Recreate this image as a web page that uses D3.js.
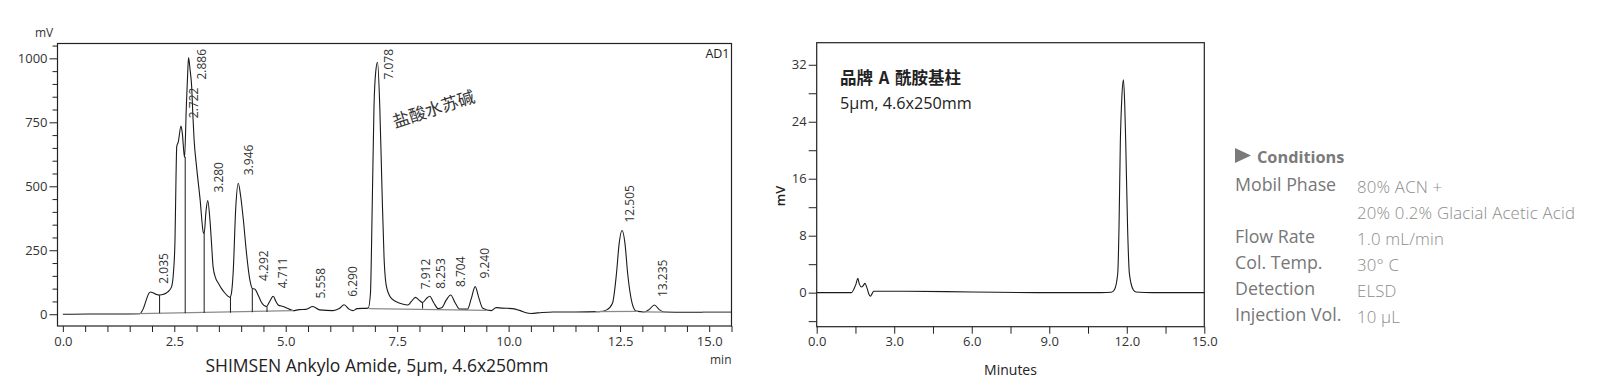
<!DOCTYPE html>
<html>
<head>
<meta charset="utf-8">
<script src="https://cdn.jsdelivr.net/npm/d3@7.9.0/dist/d3.min.js"></script>
<style>
  body { margin: 0; background: #fff; }
  svg { display: block; font-family: "Open Sans", "Noto Sans", sans-serif; }
</style>
</head>
<body>
<svg id="chart" width="1608" height="389"></svg>
<script>
/******************************************************
 * Data
 ******************************************************/
// left chromatogram: [time (min), signal (mV)]
const leftTrace = [
  [0.00, 0], [0.60, 1], [1.20, 1], [1.72, 2], [1.80, 20], [1.87, 55], [1.93, 82], [1.97, 87],
  [2.02, 84], [2.10, 77], [2.17, 75], [2.26, 78], [2.36, 88], [2.44, 108], [2.48, 160],
  [2.516, 290], [2.54, 550], [2.555, 655], [2.59, 674], [2.65, 735], [2.68, 707], [2.73, 612],
  [2.77, 811], [2.80, 940], [2.82, 1003], [2.855, 954], [2.89, 889], [2.915, 785], [2.945, 680],
  [3.00, 576], [3.08, 447], [3.15, 320], [3.17, 315], [3.21, 400], [3.25, 444], [3.30, 368],
  [3.34, 264], [3.37, 186], [3.43, 140], [3.49, 121], [3.56, 100], [3.64, 82], [3.75, 66],
  [3.78, 80], [3.82, 160], [3.88, 420], [3.935, 512], [3.99, 460], [4.05, 368], [4.12, 238],
  [4.195, 134], [4.25, 101], [4.31, 98], [4.38, 75], [4.46, 45], [4.57, 30], [4.64, 50],
  [4.72, 70], [4.78, 50], [4.83, 36], [4.94, 30], [5.09, 19], [5.17, 14], [5.30, 18],
  [5.45, 19], [5.61, 30], [5.76, 17], [6.06, 14], [6.20, 22], [6.31, 37], [6.42, 20],
  [6.51, 14], [6.60, 22], [6.85, 24], [6.90, 80], [6.94, 420], [6.98, 811], [7.02, 950],
  [7.06, 985], [7.11, 811], [7.16, 485], [7.205, 225], [7.26, 108], [7.37, 62], [7.56, 43],
  [7.74, 36], [7.82, 50], [7.91, 66], [7.99, 55], [8.07, 46], [8.16, 62], [8.23, 70],
  [8.32, 45], [8.42, 22], [8.50, 25], [8.60, 55], [8.70, 75], [8.80, 45], [8.90, 20],
  [9.08, 20], [9.16, 60], [9.25, 108], [9.33, 65], [9.42, 23], [9.61, 14], [9.72, 26],
  [9.85, 24], [10.09, 22], [10.25, 15], [10.39, 6], [10.50, 3], [10.75, 7], [11.00, 9],
  [11.50, 9], [12.04, 10], [12.20, 17], [12.33, 43], [12.42, 160], [12.48, 277], [12.545, 327],
  [12.61, 277], [12.67, 160], [12.77, 43], [12.86, 12], [13.04, 9], [13.15, 18], [13.27, 36],
  [13.38, 18], [13.49, 9], [14.00, 8], [15.00, 8]
];
// peak labels: [retention time, apex height (mV)]
const leftPeaks = [
  [2.035, 88], [2.722, 735], [2.886, 1003], [3.280, 444], [3.946, 512], [4.292, 99],
  [4.711, 70], [5.558, 30], [6.290, 37], [7.078, 985], [7.912, 66], [8.253, 68],
  [8.704, 75], [9.240, 108], [12.505, 327], [13.235, 36]
];
// vertical drop lines at valleys: [time, top (mV), bottom (mV)]
const dropLines = [
  [2.17, 75, 4], [2.745, 615, 4], [3.17, 315, 5], [3.76, 68, 6], [4.25, 101, 8], [4.58, 30, 9], [8.07, 46, 22]
];
// integration baselines: [t0, mV0, t1, mV1]
const baselines = [
  [0.60, 0, 1.72, 2], [1.72, 2, 5.17, 14], [6.87, 22, 9.50, 15],
  [11.95, 10, 12.90, 11], [13.00, 9, 13.55, 8], [14.35, 8, 15.00, 8]
];
const leftXMajor = [0, 2.5, 5, 7.5, 10, 12.5, 15];
const leftYMajor = [0, 250, 500, 750, 1000];

// right chromatogram: [time (min), signal (mV)]
const rightTrace = [
  [0, 0], [1.35, 0], [1.45, 0.6], [1.52, 1.2], [1.59, 2.0], [1.65, 1.2], [1.74, 0.8],
  [1.80, 1.0], [1.87, 1.3], [1.95, 0.6], [2.03, -0.3], [2.08, -0.5], [2.15, -0.1], [2.20, 0.2],
  [3.0, 0.2], [5.0, 0.15], [7.0, 0.05], [9.0, 0.0], [11.0, 0.0], [11.4, 0.05], [11.52, 0.4],
  [11.65, 2.7], [11.70, 9.3], [11.75, 21], [11.81, 27.5], [11.87, 29.9], [11.92, 26.5],
  [11.96, 21], [12.03, 9.3], [12.10, 2.7], [12.25, 0.4], [12.35, 0.1], [13.0, 0], [15.0, 0]
];
const rightXMajor = [0, 3, 6, 9, 12, 15];
const rightYMajor = [0, 8, 16, 24, 32];

const conditions = [
  ["Mobil Phase", "80% ACN +"],
  ["", "20% 0.2% Glacial Acetic Acid"],
  ["Flow Rate", "1.0 mL/min"],
  ["Col. Temp.", "30° C"],
  ["Detection", "ELSD"],
  ["Injection Vol.", "10 μL"]
];

const svg = d3.select("#chart");
const ink = "#222";

/******************************************************
 * Left chart
 ******************************************************/
function drawLeft() {
  const box = { left: 57.5, top: 43.5, right: 731.5, bottom: 326 };
  const x = d3.scaleLinear().domain([-0.12, 15]).range([box.left, box.right]);
  const y = d3.scaleLinear().domain([-46, 1058]).range([box.bottom, box.top]);
  const g = svg.append("g");

  // x axis (minor every 0.5, labels on majors)
  const xa = g.append("g")
    .attr("transform", `translate(0,${box.bottom})`)
    .call(d3.axisBottom(x)
      .tickValues(d3.range(0, 15.01, 0.5))
      .tickSize(6).tickPadding(5)
      .tickFormat(d => leftXMajor.includes(d) ? d3.format(".1f")(d) : ""));
  xa.select(".domain").remove();
  // the last label sits one minor step to the left in the original
  xa.selectAll(".tick text")
    .filter(d => d === 15)
    .attr("x", x(14.5) - x(15));

  // y axis
  const ya = g.append("g")
    .attr("transform", `translate(${box.left},0)`)
    .call(d3.axisLeft(y).tickValues(leftYMajor).tickSize(8).tickPadding(2).tickFormat(d3.format("d")));
  ya.select(".domain").remove();
  const ym = g.append("g")
    .attr("transform", `translate(${box.left},0)`)
    .call(d3.axisLeft(y)
      .tickValues(d3.range(0, 1051, 50).filter(v => !leftYMajor.includes(v)))
      .tickSize(5).tickFormat(""));
  ym.select(".domain").remove();

  g.selectAll(".tick line").attr("stroke", ink);
  g.selectAll(".tick text")
    .attr("fill", "#333")
    .style("font-size", "13px")
    .style("font-family", "'Open Sans', sans-serif");

  // trace
  const line = d3.line()
    .x(d => x(d[0]))
    .y(d => y(d[1]))
    .curve(d3.curveMonotoneX);
  g.append("path")
    .datum(leftTrace)
    .attr("fill", "none")
    .attr("stroke", "#1a1a1a")
    .attr("stroke-width", 1.1)
    .attr("d", line);

  // baselines
  g.selectAll(".base")
    .data(baselines)
    .enter()
    .append("line")
    .attr("class", "base")
    .attr("x1", d => x(d[0])).attr("y1", d => y(d[1]))
    .attr("x2", d => x(d[2])).attr("y2", d => y(d[3]))
    .attr("stroke", "#8a8a8a")
    .attr("stroke-width", 1.3);

  // drop lines
  g.selectAll(".drop")
    .data(dropLines)
    .enter()
    .append("line")
    .attr("class", "drop")
    .attr("x1", d => x(d[0])).attr("x2", d => x(d[0]))
    .attr("y1", d => y(d[1])).attr("y2", d => y(d[2]))
    .attr("stroke", "#1a1a1a")
    .attr("stroke-width", 1);

  // frame
  g.append("rect")
    .attr("x", box.left).attr("y", box.top)
    .attr("width", box.right - box.left)
    .attr("height", box.bottom - box.top)
    .attr("fill", "none")
    .attr("stroke", ink)
    .attr("stroke-width", 1.2);

  // peak labels, rotated; tall peaks are pushed down under the frame top
  g.selectAll(".peakLabel")
    .data(leftPeaks)
    .enter()
    .append("text")
    .attr("class", "peakLabel")
    .attr("transform", d => {
      const py = Math.max(y(d[1]) - 8, box.top + 36);
      return `translate(${x(d[0]) + 10},${py}) rotate(-90)`;
    })
    .attr("dy", "0.35em")
    .attr("fill", "#333")
    .style("font-size", "12px")
    .text(d => d3.format(".3f")(d[0]));

  g.append("text")
    .attr("x", 35).attr("y", 37)
    .attr("fill", "#333")
    .style("font-size", "12px")
    .text("mV");

  g.append("text")
    .attr("x", box.right - 2).attr("y", 58)
    .attr("text-anchor", "end")
    .attr("fill", "#222")
    .style("font-size", "12.5px")
    .text("AD1");

  g.append("text")
    .attr("x", box.right).attr("y", 364)
    .attr("text-anchor", "end")
    .attr("fill", "#333")
    .style("font-size", "12px")
    .text("min");

  g.append("text")
    .attr("x", 377).attr("y", 372)
    .attr("text-anchor", "middle")
    .attr("fill", "#222")
    .style("font-size", "17.5px")
    .text("SHIMSEN Ankylo Amide, 5μm, 4.6x250mm");

  g.append("text")
    .attr("transform", "translate(395,128) rotate(-18)")
    .attr("fill", "#333")
    .style("font-family", "'Noto Sans CJK SC', sans-serif")
    .style("font-size", "17px")
    .text("盐酸水苏碱");
}

/******************************************************
 * Right chart
 ******************************************************/
function drawRight() {
  const box = { left: 816.7, top: 42.7, right: 1204.3, bottom: 326.7 };
  const x = d3.scaleLinear().domain([0, 15]).range([box.left, box.right]);
  const y = d3.scaleLinear().domain([-4.78, 35.1]).range([box.bottom, box.top]);
  const g = svg.append("g");

  const xa = g.append("g")
    .attr("transform", `translate(0,${box.bottom})`)
    .call(d3.axisBottom(x)
      .tickValues(d3.range(0, 15.01, 1.5))
      .tickSize(7).tickPadding(3)
      .tickFormat(d => rightXMajor.includes(d) ? d3.format(".1f")(d) : ""));
  xa.select(".domain").remove();

  const ya = g.append("g")
    .attr("transform", `translate(${box.left},0)`)
    .call(d3.axisLeft(y)
      .tickValues(d3.range(-4, 33, 4))
      .tickSize(8).tickPadding(2)
      .tickFormat(d => rightYMajor.includes(d) ? d : ""));
  ya.select(".domain").remove();

  g.selectAll(".tick line").attr("stroke", ink);
  g.selectAll(".tick text")
    .attr("fill", "#333")
    .style("font-size", "13px")
    .style("font-family", "'Open Sans', sans-serif");

  const line = d3.line()
    .x(d => x(d[0]))
    .y(d => y(d[1]))
    .curve(d3.curveMonotoneX);
  g.append("path")
    .datum(rightTrace)
    .attr("fill", "none")
    .attr("stroke", "#1a1a1a")
    .attr("stroke-width", 1.1)
    .attr("d", line);

  g.append("rect")
    .attr("x", box.left).attr("y", box.top)
    .attr("width", box.right - box.left)
    .attr("height", box.bottom - box.top)
    .attr("fill", "none")
    .attr("stroke", ink)
    .attr("stroke-width", 1.2);

  g.append("text")
    .attr("x", 840).attr("y", 84)
    .attr("fill", "#222")
    .style("font-family", "'Noto Sans CJK SC', sans-serif")
    .style("font-weight", "bold")
    .style("font-size", "16.5px")
    .style("word-spacing", "2px")
    .text("品牌 A 酰胺基柱");

  g.append("text")
    .attr("x", 840).attr("y", 108.5)
    .attr("fill", "#222")
    .style("font-size", "16.2px")
    .text("5μm, 4.6x250mm");

  g.append("text")
    .attr("transform", "translate(785,196) rotate(-90)")
    .attr("text-anchor", "middle")
    .attr("fill", "#222")
    .style("font-size", "13px")
    .style("font-weight", "600")
    .text("mV");

  g.append("text")
    .attr("x", (box.left + box.right) / 2).attr("y", 375)
    .attr("text-anchor", "middle")
    .attr("fill", "#222")
    .style("font-size", "14px")
    .text("Minutes");
}

/******************************************************
 * Conditions block
 ******************************************************/
function drawConditions() {
  const g = svg.append("g");
  const left = 1235, valueX = 1357;

  g.append("path")
    .attr("d", `M${left},148 L${left + 16},155.5 L${left},163 Z`)
    .attr("fill", "#7a7a7a");
  g.append("text")
    .attr("x", left + 22).attr("y", 163)
    .attr("fill", "#7a7a7a")
    .style("font-weight", "bold")
    .style("font-size", "16.3px")
    .text("Conditions");

  const rows = g.selectAll(".cond")
    .data(conditions)
    .enter()
    .append("g")
    .attr("class", "cond")
    .attr("transform", (d, i) => `translate(0,${193 + i * 26})`);
  rows.append("text")
    .attr("x", left).attr("y", -2)
    .attr("fill", "#777")
    .style("font-size", "17.8px")
    .text(d => d[0]);
  rows.append("text")
    .attr("x", valueX).attr("y", 0)
    .attr("fill", "#8c8c8c")
    .style("font-size", "16.8px")
    .style("font-weight", "300")
    .style("letter-spacing", "0.2px")
    .text(d => d[1]);
}

drawLeft();
drawRight();
drawConditions();
</script>
</body>
</html>
